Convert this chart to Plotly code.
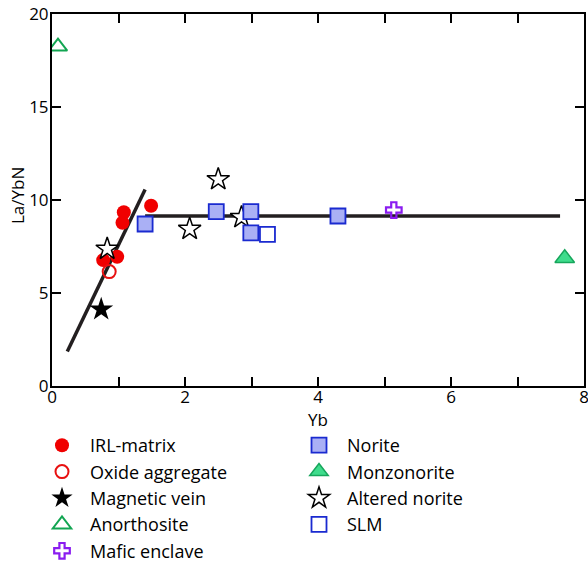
import plotly.graph_objects as go

# La/YbN versus Yb by lithology
irl_yb = [1.08, 1.06, 1.49, 0.77, 0.98]
irl_la = [9.34, 8.78, 9.69, 6.77, 6.95]

oxide_yb = [0.86]
oxide_la = [6.15]

vein_yb = [0.74]
vein_la = [4.12]

anorth_yb = [0.09]
anorth_la = [18.25]

mafic_yb = [5.14]
mafic_la = [9.46]

norite_yb = [1.40, 2.47, 2.99, 2.99, 4.30]
norite_la = [8.71, 9.37, 9.37, 8.23, 9.14]

monzo_yb = [7.71]
monzo_la = [6.87]

altered_yb = [0.83, 2.50, 2.07, 2.85]
altered_la = [7.37, 11.11, 8.44, 9.07]

slm_yb = [3.24]
slm_la = [8.15]

# trend lines: steep array and flat array
trend1_yb = [0.23, 1.40]
trend1_la = [1.85, 10.57]
trend2_yb = [1.40, 7.64]
trend2_la = [9.14, 9.14]

x_ticks = [0, 1, 2, 3, 4, 5, 6, 7, 8]
x_ticktext = ["0", "", "2", "", "4", "", "6", "", "8"]
y_ticks = [0, 5, 10, 15, 20]

FONT = "Open Sans"
LINE = "#231f20"

fig = go.Figure()

for xs, ys in [(trend1_yb, trend1_la), (trend2_yb, trend2_la)]:
    fig.add_trace(go.Scatter(x=xs, y=ys, mode="lines", showlegend=False,
                             line=dict(color=LINE, width=3.5), hoverinfo="skip"))

def pts(name, xs, ys, marker, legend):
    fig.add_trace(go.Scatter(x=xs, y=ys, mode="markers", name=name,
                             marker=marker, legend=legend))

pts("IRL-matrix", irl_yb, irl_la,
    dict(symbol="circle", size=14, color="#f00000", line=dict(width=0)), "legend")
pts("Oxide aggregate", oxide_yb, oxide_la,
    dict(symbol="circle-open", size=13, color="#e81010", line=dict(width=2)), "legend")
pts("Magnetic vein", vein_yb, vein_la,
    dict(symbol="star", size=18, color="#000000", line=dict(width=0)), "legend")
pts("Anorthosite", anorth_yb, anorth_la,
    dict(symbol="triangle-up-open", size=16, color="#12a552", line=dict(width=2)), "legend")
pts("Mafic enclave", mafic_yb, mafic_la,
    dict(symbol="cross-open", size=13, color="#8a1cf0", line=dict(width=2.2)), "legend")
pts("Altered norite", altered_yb, altered_la,
    dict(symbol="star", size=17, color="#ffffff", line=dict(width=1.5, color="#000000")), "legend2")
pts("Norite", norite_yb, norite_la,
    dict(symbol="square", size=15, color="#aab0f5", line=dict(width=1.8, color="#1a2ad0")), "legend2")
pts("Monzonorite", monzo_yb, monzo_la,
    dict(symbol="triangle-up", size=17, color="#3fdc8c", line=dict(width=1.5, color="#17a65c")), "legend2")
pts("SLM", slm_yb, slm_la,
    dict(symbol="square", size=15, color="#ffffff", line=dict(width=1.8, color="#1a2ad0")), "legend2")

# legend order within the second column
order2 = {"Norite": 1, "Monzonorite": 2, "Altered norite": 3, "SLM": 4}
for tr in fig.data:
    if tr.name in order2:
        tr.legendrank = order2[tr.name]

axis_common = dict(showline=True, linewidth=2, linecolor="#000000", mirror="ticks",
                   ticks="inside", ticklen=9, tickwidth=1.5, tickcolor="#000000",
                   showgrid=False, zeroline=False, ticklabeloverflow="allow",
                   tickfont=dict(family=FONT, size=17, color="#000000"))

fig.update_xaxes(range=[0, 8], tickvals=x_ticks, ticktext=x_ticktext,
                 ticklabelstandoff=-5, **axis_common)
fig.update_yaxes(range=[0, 20], tickvals=y_ticks,
                 ticklabelstandoff=-2, **axis_common)

title_font = dict(family=FONT, size=17, color="#000000")
fig.add_annotation(text="Yb", xref="paper", yref="paper", x=0.5, y=-0.09,
                   xanchor="center", yanchor="middle", showarrow=False, font=title_font)
fig.add_annotation(text="La/YbN", xref="paper", yref="paper", x=-0.0636, y=0.511,
                   xanchor="center", yanchor="middle", textangle=-90,
                   showarrow=False, font=title_font)

legend_common = dict(font=dict(family=FONT, size=18, color="#000000"),
                     bgcolor="rgba(0,0,0,0)", borderwidth=0, itemwidth=46,
                     xref="container", yref="container", xanchor="left", yanchor="top",
                     traceorder="normal")

fig.update_layout(
    width=588, height=565,
    margin=dict(l=52, r=4, t=14, b=179, autoexpand=False),
    plot_bgcolor="#ffffff", paper_bgcolor="#ffffff",
    font=dict(family=FONT, color="#000000"),
    legend=dict(x=34 / 588, y=1 - 427 / 565, **legend_common),
    legend2=dict(x=291 / 588, y=1 - 427 / 565, **legend_common),
)

fig.write_html("out.html")
